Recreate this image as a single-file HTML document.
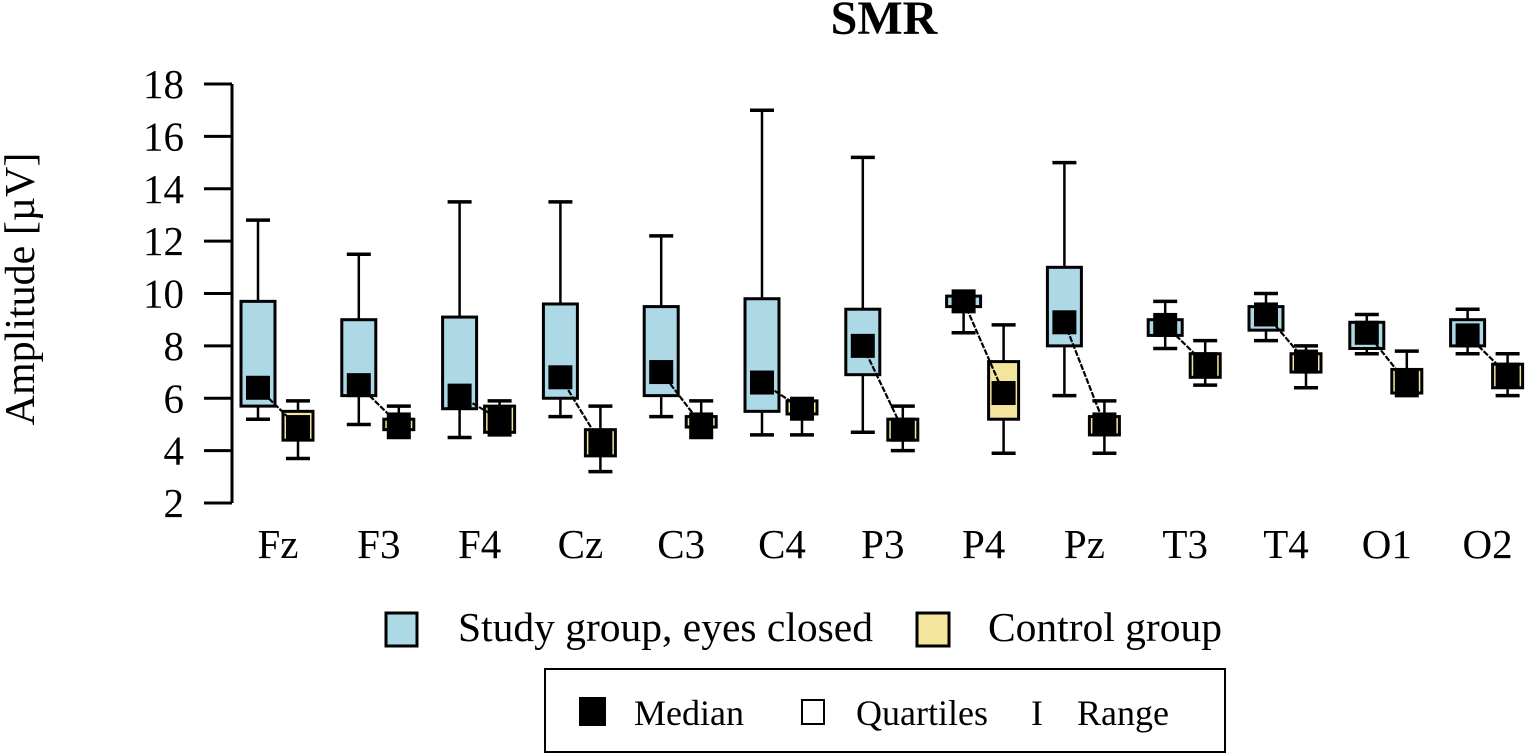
<!DOCTYPE html>
<html><head><meta charset="utf-8"><style>
html,body{margin:0;padding:0;background:#fff;}
svg{display:block;font-family:"Liberation Serif",serif;}
</style></head><body>
<svg id="chart" width="1535" height="755" viewBox="0 0 1535 755">
<text x="884" y="34" text-anchor="middle" font-size="48" font-weight="bold">SMR</text>
<text transform="translate(34,289) rotate(-90)" text-anchor="middle" font-size="42">Amplitude [µV]</text>
<g id="axis"></g>
<g id="marks"></g>
<g id="xlabels"></g>
<g>
<rect x="386" y="613" width="31" height="33" fill="#add8e6" stroke="#000" stroke-width="3"/>
<text x="458" y="641" font-size="41.5">Study group, eyes closed</text>
<rect x="917" y="613" width="32" height="33" fill="#f3e69c" stroke="#000" stroke-width="3"/>
<text x="988" y="641" font-size="41.5">Control group</text>
</g>
<g>
<rect x="545" y="669" width="680" height="83" fill="#fff" stroke="#000" stroke-width="2"/>
<rect x="579" y="697" width="27" height="29" fill="#000"/>
<text x="634" y="725" font-size="36">Median</text>
<rect x="802" y="700" width="22" height="24" fill="#fff" stroke="#000" stroke-width="2"/>
<text x="856" y="725" font-size="36">Quartiles</text>
<text x="1031" y="725" font-size="36">I</text>
<text x="1077" y="725" font-size="36">Range</text>
</g>
</svg>
<script>
const categories=["Fz","F3","F4","Cz","C3","C4","P3","P4","Pz","T3","T4","O1","O2"];
const studyMin=[5.2,5.0,4.5,5.3,5.3,4.6,4.7,8.5,6.1,7.9,8.2,7.7,7.7];
const studyQ1=[5.7,6.1,5.6,6.0,6.1,5.5,6.9,9.5,8.0,8.4,8.6,7.9,8.0];
const studyMed=[6.4,6.5,6.1,6.8,7.0,6.6,8.0,9.7,8.9,8.8,9.2,8.5,8.4];
const studyQ3=[9.7,9.0,9.1,9.6,9.5,9.8,9.4,9.9,11.0,9.0,9.5,8.9,9.0];
const studyMax=[12.8,11.5,13.5,13.5,12.2,17.0,15.2,9.9,15.0,9.7,10.0,9.2,9.4];
const ctrlMin=[3.7,4.5,4.6,3.2,4.5,4.6,4.0,3.9,3.9,6.5,6.4,6.1,6.1];
const ctrlQ1=[4.4,4.8,4.7,3.8,4.9,5.4,4.4,5.2,4.6,6.8,7.0,6.2,6.4];
const ctrlMed=[4.9,5.0,5.2,4.3,5.0,5.6,4.8,6.2,5.0,7.3,7.4,6.6,6.9];
const ctrlQ3=[5.5,5.2,5.7,4.8,5.3,5.9,5.2,7.4,5.3,7.7,7.7,7.1,7.3];
const ctrlMax=[5.9,5.7,5.9,5.7,5.9,5.9,5.7,8.8,5.9,8.2,8.0,7.8,7.7];
const yTicks=[2,4,6,8,10,12,14,16,18];

const NS="http://www.w3.org/2000/svg";
const y=v=>503-(v-2)*(419/16);
const xMid=i=>278+100.8*i;
function mk(tag,attrs,parent){const e=document.createElementNS(NS,tag);for(const k in attrs)e.setAttribute(k,attrs[k]);parent.appendChild(e);return e;}
const axis=document.getElementById('axis'),marks=document.getElementById('marks'),xl=document.getElementById('xlabels');
mk('line',{x1:232,x2:232,y1:y(18),y2:y(2),stroke:'#000','stroke-width':3},axis);
yTicks.forEach(t=>{
  const l=mk('line',{x1:204,x2:232,y1:y(t),y2:y(t),stroke:'#000','stroke-width':3},axis);
  
  
  const tx=mk('text',{x:184,y:y(t)+14,'text-anchor':'end','font-size':41},axis);
  tx.textContent=t;
  
  
});
function box(cx,w,mn,q1,md,q3,mx,fill,name){
  const g=mk('g',{},marks);
  
  
  mk('line',{x1:cx,x2:cx,y1:y(mx),y2:y(mn),stroke:'#000','stroke-width':2.5},g);
  mk('line',{x1:cx-12,x2:cx+12,y1:y(mx),y2:y(mx),stroke:'#000','stroke-width':3.5},g);
  mk('line',{x1:cx-12,x2:cx+12,y1:y(mn),y2:y(mn),stroke:'#000','stroke-width':3.5},g);
  mk('rect',{x:cx-w/2,y:y(q3),width:w,height:Math.max(y(q1)-y(q3),4),fill:fill,stroke:'#000','stroke-width':3},g);
  return g;
}
categories.forEach((c,i)=>{
  const sx=xMid(i)-20,cx=xMid(i)+20;
  box(sx,34,studyMin[i],studyQ1[i],studyMed[i],studyQ3[i],studyMax[i],'#add8e6','study-box-'+c);
  box(cx,30,ctrlMin[i],ctrlQ1[i],ctrlMed[i],ctrlQ3[i],ctrlMax[i],'#f3e69c','control-box-'+c);
  const ln=mk('line',{x1:sx,y1:y(studyMed[i]),x2:cx,y2:y(ctrlMed[i]),stroke:'#000','stroke-width':2.2,'stroke-dasharray':'6,1.5'},marks);
  
  
  const m1=mk('rect',{x:sx-12,y:y(studyMed[i])-12,width:24,height:24,fill:'#000'},marks);
  
  
  const m2=mk('rect',{x:cx-12,y:y(ctrlMed[i])-12,width:24,height:24,fill:'#000'},marks);
  
  
  const t=mk('text',{x:xMid(i),y:558,'text-anchor':'middle','font-size':41},xl);
  t.textContent=c;
  
  
});
</script>
</body></html>
